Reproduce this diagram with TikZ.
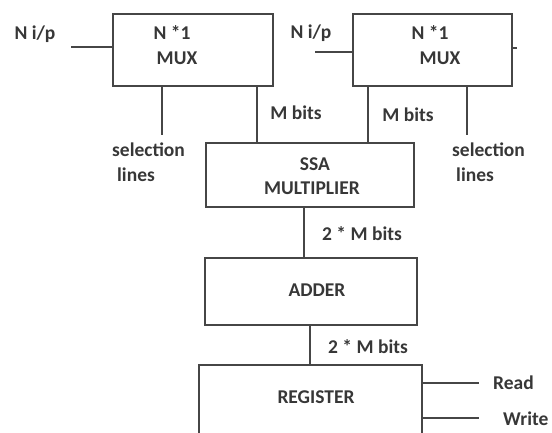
\documentclass[tikz,border=0pt]{standalone}
\usepackage{fontspec}
\setmainfont{Carlito}
\definecolor{ln}{RGB}{70,70,70}
\definecolor{tx}{RGB}{55,55,55}
\begin{document}
\begin{tikzpicture}[x=1pt,y=-1pt,
  box/.style={draw=ln,line width=1.7pt,rectangle,inner sep=0pt},
  lbl/.style={text=tx,inner sep=0pt,font=\fontsize{19.5}{24}\selectfont\bfseries},
  wire/.style={draw=ln,line width=1.7pt}]
\useasboundingbox (0,0) rectangle (552,432);
\clip (0,0) rectangle (552,432);
% boxes
\node[box,minimum width=160pt,minimum height=72pt] (muxL) at (193,50) {};
\node[box,minimum width=159pt,minimum height=72pt] (muxR) at (432.5,50) {};
\node[box,minimum width=208pt,minimum height=64pt] (ssa) at (310,175) {};
\node[box,minimum width=212pt,minimum height=67pt] (adder) at (311,291.5) {};
\node[box,minimum width=223pt,minimum height=90pt] (reg) at (310.5,410) {};
% texts
\node[lbl] (tNL) at (35,34) {N i/p};
\node[lbl] (tN1L) at (172,33) {N *1};
\node[lbl] (tMuxL) at (177,58) {MUX};
\node[lbl,anchor=west] (tSelL) at (112,150) {selection};
\node[lbl,anchor=west] (tLinL) at (117,175) {lines};
\node[lbl] (tMbL) at (296,113) {M bits};
\node[lbl] (tNR) at (311,33) {N i/p};
\node[lbl] (tN1R) at (430,33) {N *1};
\node[lbl] (tMuxR) at (440,58) {MUX};
\node[lbl] (tMbR) at (408,115) {M bits};
\node[lbl,anchor=west] (tSelR) at (452,150) {selection};
\node[lbl,anchor=west] (tLinR) at (456,175) {lines};
\node[lbl] (tSSA) at (315,164) {SSA};
\node[lbl] (tMul) at (312,188) {MULTIPLIER};
\node[lbl,anchor=west] (t2M1) at (322,234) {2 * M bits};
\node[lbl] (tAdd) at (317,290) {ADDER};
\node[lbl,anchor=west] (t2M2) at (328,347) {2 * M bits};
\node[lbl] (tReg) at (316,397) {REGISTER};
\node[lbl,anchor=west] (tRead) at (493,383) {Read};
\node[lbl,anchor=west] (tWrite) at (503,419) {Write};
% free ends
\coordinate (inL) at (71,47);
\coordinate (inR) at (315,52);
\coordinate (selLend) at (162,135);
\coordinate (selRend) at (467,135);
\coordinate (stubR) at (517,48);
\coordinate (readEnd) at (479,383);
\coordinate (writeEnd) at (479,418);
% connectors
\draw[wire] (inL) -- (inL -| muxL.west);
\draw[wire] (inR) -- (inR -| muxR.west);
\draw[wire] (stubR -| muxR.east) -- (stubR);
\draw[wire] (selLend |- muxL.south) -- (selLend);
\draw[wire] (selRend |- muxR.south) -- (selRend);
\draw[wire] ([xshift=-17pt]muxL.south east) -- ([xshift=-17pt]muxL.south east |- ssa.north);
\draw[wire] ([xshift=16pt]muxR.south west) -- ([xshift=16pt]muxR.south west |- ssa.north);
\draw[wire] ([xshift=-6pt]ssa.south) -- ([xshift=-6pt]ssa.south |- adder.north);
\draw[wire] ([xshift=-1pt]adder.south) -- ([xshift=-1pt]adder.south |- reg.north);
\draw[wire] (readEnd -| reg.east) -- (readEnd);
\draw[wire] (writeEnd -| reg.east) -- (writeEnd);
\end{tikzpicture}
\end{document}
